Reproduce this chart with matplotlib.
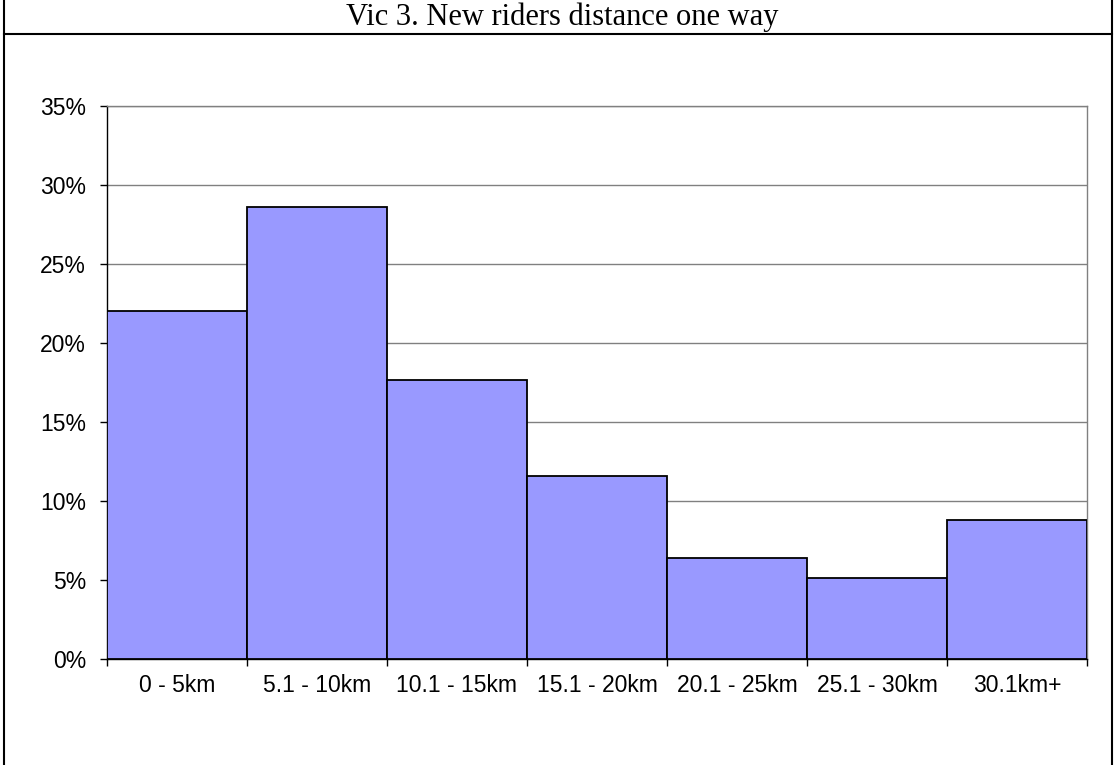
import matplotlib.pyplot as plt
from matplotlib.lines import Line2D
from matplotlib.ticker import FuncFormatter, FixedLocator

# données
categories = ['0 - 5km', '5.1 - 10km', '10.1 - 15km', '15.1 - 20km',
              '20.1 - 25km', '25.1 - 30km', '30.1km+']
shares = [0.220, 0.286, 0.1766, 0.116, 0.0638, 0.051, 0.0878]
title = "Vic 3. New riders distance one way"

W, H = 1114, 765
fig = plt.figure(figsize=(W / 100, H / 100), dpi=100)
ax = fig.add_axes([107 / W, 1 - 659 / H, 980 / W, 553 / H])

x = list(range(len(categories)))
ax.bar(x, shares, width=1.0, color='#9999FF', edgecolor='black',
       linewidth=1.3, zorder=3)

ax.set_xlim(-0.5, len(categories) - 0.5)
ax.set_ylim(0, 0.35)
ax.set_yticks([i * 0.05 for i in range(8)])
ax.yaxis.set_major_formatter(FuncFormatter(lambda v, p: f"{v * 100:.0f}%"))
ax.grid(axis='y', color='#808080', linewidth=1.0, zorder=0)

# ticks entre les catégories, étiquettes au centre
ax.xaxis.set_major_locator(FixedLocator([i - 0.5 for i in range(len(categories) + 1)]))
ax.xaxis.set_major_formatter(FuncFormatter(lambda v, p: ""))
ax.xaxis.set_minor_locator(FixedLocator(x))
ax.set_xticklabels(categories, minor=True)
ax.tick_params(axis='x', which='minor', length=0, pad=11,
               labelsize=16.5)
ax.tick_params(axis='x', which='major', length=5, width=1, direction='out')
ax.tick_params(axis='y', length=5, width=1, direction='out', pad=10,
               labelsize=16.5)
for lab in ax.get_xticklabels(minor=True) + ax.get_yticklabels():
    lab.set_fontfamily('Liberation Sans')

ax.spines['top'].set_color('#808080')
ax.spines['right'].set_color('#808080')
ax.spines['left'].set_color('black')
ax.spines['bottom'].set_color('black')
for s in ax.spines.values():
    s.set_linewidth(1.0)

# cadre et bandeau du titre
lw = 1.5
fig.add_artist(Line2D([4 / W, 4 / W], [0, 1], color='black', linewidth=lw))
fig.add_artist(Line2D([1112 / W, 1112 / W], [0, 1], color='black', linewidth=lw))
fig.add_artist(Line2D([4 / W, 1112 / W], [1 - 34 / H, 1 - 34 / H], color='black', linewidth=lw))
fig.text(562 / W, 1 - 25 / H, title, ha='center', va='baseline',
         fontsize=22, fontfamily='Liberation Serif')

fig.savefig('out.png', dpi=100)
